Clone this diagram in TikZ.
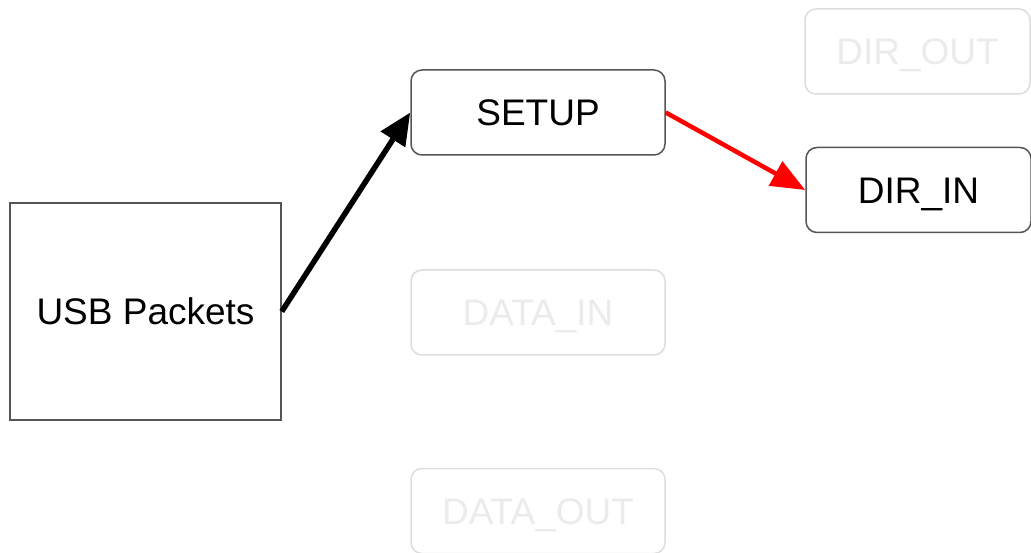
\documentclass[tikz,border=0pt]{standalone}
\usepackage{fontspec}
\setmainfont{Liberation Sans}
\usetikzlibrary{arrows.meta}
\definecolor{edgegray}{HTML}{555555}
\definecolor{fadeline}{HTML}{DDDDDD}
\definecolor{fadetext}{HTML}{EBEBEB}
\begin{document}
\begin{tikzpicture}[x=1pt,y=1pt,
    every node/.style={font=\fontsize{37}{44}\selectfont, inner sep=0pt, text height=26.5pt, text depth=0pt},
    packet/.style={draw=edgegray, line width=1.5pt, minimum width=271pt, minimum height=217pt},
    state/.style={draw=edgegray, line width=1.5pt, rounded corners=11pt, minimum width=254pt, minimum height=85pt},
    faded/.style={state, draw=fadeline, text=fadetext},
    trans/.style={-{Triangle[length=32pt,width=28pt]}, line width=5.5pt}]
    \useasboundingbox (0,0) rectangle (1031,-553);
    % Input
    \node[packet] (usb) at (145.5,-311.5) {USB Packets};
    % States
    \node[state] (setup) at (538,-112.5) {SETUP};
    \node[state, minimum width=225pt] (dirin) at (918.5,-190) {DIR\_IN};
    \node[faded, minimum width=225pt] (dirout) at (917.5,-51.5) {DIR\_OUT};
    \node[faded] (datain) at (538,-312.5) {DATA\_IN};
    \node[faded] (dataout) at (538,-511) {DATA\_OUT};
    % Transitions
    \draw[trans] (usb.east) -- (setup.west);
    \draw[trans, red, line width=4.5pt, -{Triangle[length=34pt,width=27pt]}] (setup.east) -- (dirin.west);
\end{tikzpicture}
\end{document}
